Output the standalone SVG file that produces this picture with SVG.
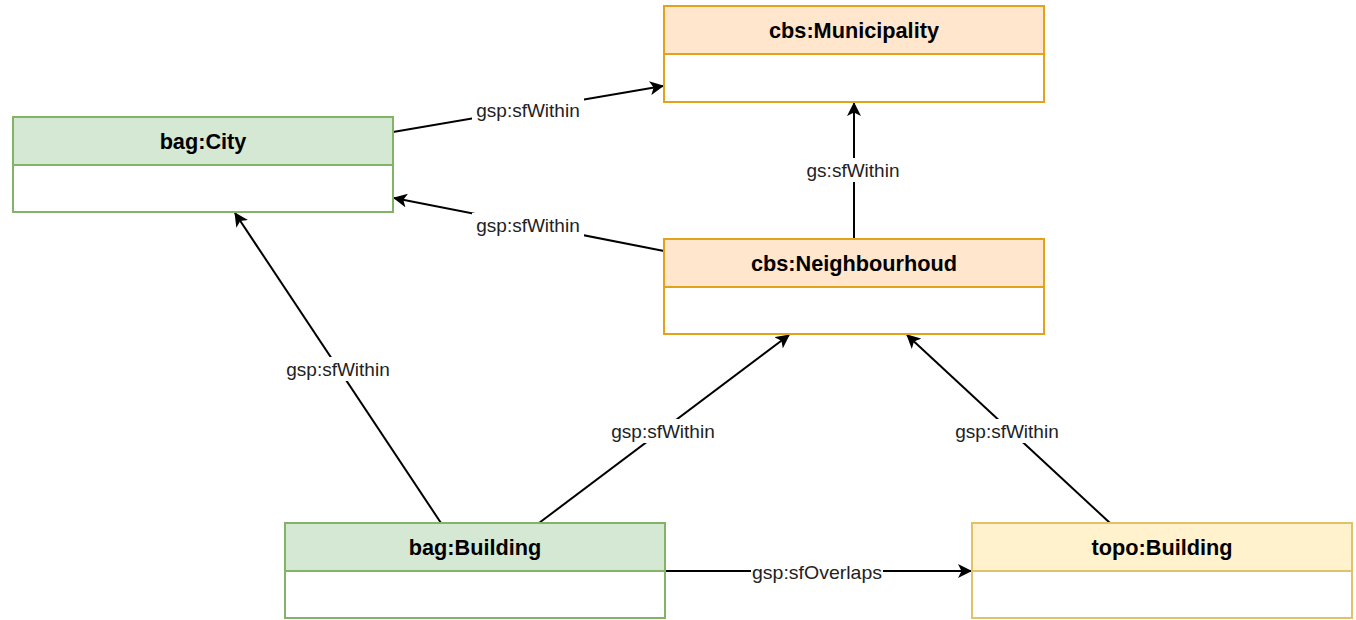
<svg xmlns="http://www.w3.org/2000/svg" width="1356" height="620" viewBox="0 0 1356 620">
<defs>
<marker id="arr" markerWidth="14" markerHeight="14" refX="13" refY="7" orient="auto" markerUnits="userSpaceOnUse">
<path d="M0,0 L14,7 L0,14 L3.5,7 Z" fill="#000"/>
</marker>
<style>
.t{font-family:"Liberation Sans",Arial,sans-serif;font-weight:bold;font-size:21.7px;fill:#000;text-anchor:middle}
.l{font-family:"Liberation Sans",Arial,sans-serif;font-size:19px;fill:#222;text-anchor:middle}
.e{stroke:#000;stroke-width:2;fill:none;marker-end:url(#arr)}
.g rect{fill:#d5e8d4;stroke:#82b366;stroke-width:2}
.o rect{fill:#ffe6cc;stroke:#e3a21a;stroke-width:2}
.y rect{fill:#fff2cc;stroke:#e0c26a;stroke-width:2}
rect.b{fill:#fff}
.lb{fill:#fff}
</style>
</defs>
<rect width="1356" height="620" fill="#fff"/>
<g id="connectors">
<line class="e" x1="393" y1="132" x2="663" y2="86"/>
<line class="e" x1="664" y1="251" x2="394" y2="198"/>
<line class="e" x1="854" y1="239" x2="854" y2="103"/>
<line class="e" x1="441" y1="523" x2="235" y2="213"/>
<line class="e" x1="539" y1="523" x2="789" y2="335"/>
<line class="e" x1="1110" y1="523" x2="907" y2="335"/>
<line class="e" x1="665" y1="571" x2="971" y2="571"/>
<rect class="lb" x="472" y="98" width="112" height="24"/>
<text class="l" x="528" y="117">gsp:sfWithin</text>
<rect class="lb" x="472" y="213" width="112" height="24"/>
<text class="l" x="528" y="232">gsp:sfWithin</text>
<rect class="lb" x="803" y="158" width="100" height="24"/>
<text class="l" x="853" y="177">gs:sfWithin</text>
<rect class="lb" x="282" y="357" width="112" height="24"/>
<text class="l" x="338" y="376">gsp:sfWithin</text>
<rect class="lb" x="607" y="419" width="112" height="24"/>
<text class="l" x="663" y="438">gsp:sfWithin</text>
<rect class="lb" x="951" y="419" width="112" height="24"/>
<text class="l" x="1007" y="438">gsp:sfWithin</text>
<rect class="lb" x="751" y="562" width="132" height="20"/>
<text class="l" x="817" y="579" textLength="130" lengthAdjust="spacingAndGlyphs">gsp:sfOverlaps</text>
</g>
<g id="municipality" class="o">
<rect x="664" y="6" width="380" height="48"/>
<rect class="b" x="664" y="54" width="380" height="48"/>
<text class="t" x="854" y="38">cbs:Municipality</text>
</g>
<g id="city" class="g">
<rect x="13" y="117" width="380" height="48"/>
<rect class="b" x="13" y="165" width="380" height="47"/>
<text class="t" x="203" y="149">bag:City</text>
</g>
<g id="neighbourhoud" class="o">
<rect x="664" y="239" width="380" height="48"/>
<rect class="b" x="664" y="287" width="380" height="47"/>
<text class="t" x="854" y="271">cbs:Neighbourhoud</text>
</g>
<g id="bagBuilding" class="g">
<rect x="285" y="523" width="380" height="48"/>
<rect class="b" x="285" y="571" width="380" height="47"/>
<text class="t" x="475" y="555">bag:Building</text>
</g>
<g id="topoBuilding" class="y">
<rect x="972" y="523" width="380" height="48"/>
<rect class="b" x="972" y="571" width="380" height="47"/>
<text class="t" x="1162" y="555">topo:Building</text>
</g>
</svg>
